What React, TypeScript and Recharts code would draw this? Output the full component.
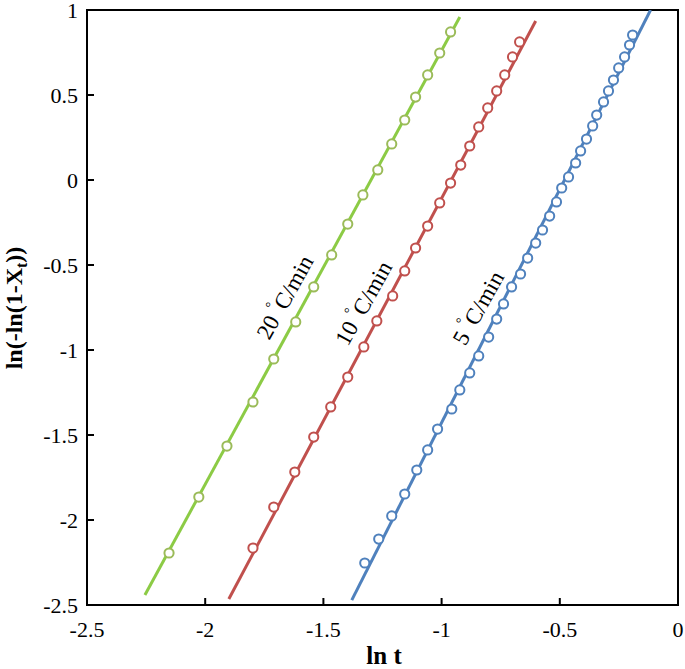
import React from 'react';
import { ComposedChart, Scatter, XAxis, YAxis, ReferenceArea } from 'recharts';

// ---- data ----
const xTicks = [-2.5, -2, -1.5, -1, -0.5, 0];
const yTicks = [-2.5, -2, -1.5, -1, -0.5, 0, 0.5, 1];

// 20 °C/min
const greenX = [-2.153, -2.027, -1.908, -1.798, -1.710, -1.617, -1.541, -1.465, -1.397, -1.333, -1.270, -1.211, -1.156, -1.110, -1.059, -1.008, -0.962];
const greenY = [-2.194, -1.865, -1.565, -1.306, -1.053, -0.835, -0.629, -0.441, -0.259, -0.088, 0.059, 0.212, 0.353, 0.488, 0.618, 0.747, 0.871];
const greenFitX = [-2.255, -0.923];
const greenFitY = [-2.441, 0.959];

// 10 °C/min
const redX = [-1.798, -1.710, -1.621, -1.541, -1.469, -1.397, -1.329, -1.274, -1.207, -1.156, -1.110, -1.059, -1.008, -0.962, -0.919, -0.881, -0.843, -0.805, -0.767, -0.733, -0.700, -0.670];
const redY = [-2.165, -1.924, -1.718, -1.512, -1.335, -1.159, -0.982, -0.829, -0.682, -0.535, -0.400, -0.271, -0.135, -0.018, 0.088, 0.200, 0.312, 0.424, 0.524, 0.618, 0.724, 0.812];
const redFitX = [-1.900, -0.602];
const redFitY = [-2.465, 0.935];

// 5 °C/min
const blueX = [-1.325, -1.266, -1.211, -1.156, -1.105, -1.059, -1.017, -0.957, -0.923, -0.881, -0.843, -0.801, -0.767, -0.738, -0.704, -0.666, -0.636, -0.602, -0.573, -0.543, -0.514, -0.492, -0.463, -0.433, -0.412, -0.387, -0.361, -0.344, -0.315, -0.294, -0.273, -0.251, -0.226, -0.205, -0.192];
const blueY = [-2.253, -2.112, -1.976, -1.847, -1.706, -1.588, -1.465, -1.347, -1.235, -1.135, -1.035, -0.924, -0.818, -0.729, -0.629, -0.553, -0.459, -0.371, -0.294, -0.212, -0.129, -0.047, 0.018, 0.100, 0.171, 0.241, 0.318, 0.382, 0.459, 0.524, 0.588, 0.659, 0.724, 0.794, 0.853];
const blueFitX = [-1.380, -0.116];
const blueFitY = [-2.471, 1.0];

// curve labels
const labelRates = ['20', '10', '5'];
const labelX = [-1.663, -1.330, -0.845];
const labelY = [-0.690, -0.724, -0.753];

const toPts = (xs: number[], ys: number[]) => xs.map((x, i) => ({ x, y: ys[i] }));

const FONT = "'Liberation Serif', 'Times New Roman', serif";
const GREEN_LINE = '#8CCB45';
const GREEN_DOT = '#9BBB59';
const RED = '#C0504D';
const BLUE = '#4F81BD';

const XTick = (props: any) => {
  const { x, y, payload } = props;
  return (
    <g>
      <line x1={x} y1={y} x2={x} y2={y - 7} stroke="#000" strokeWidth={2} />
      <text x={x} y={y + 32} textAnchor="middle" fontFamily={FONT} fontSize={22} fill="#000">
        {String(payload.value)}
      </text>
    </g>
  );
};

const YTick = (props: any) => {
  const { x, y, payload } = props;
  return (
    <g>
      <line x1={x} y1={y} x2={x + 7} y2={y} stroke="#000" strokeWidth={2} />
      <text x={x - 9} y={y + 8} textAnchor="end" fontFamily={FONT} fontSize={22} fill="#000">
        {String(payload.value)}
      </text>
    </g>
  );
};

const YTitle = () => (
  <text
    x={22}
    y={308}
    transform="rotate(-90 22 308)"
    textAnchor="middle"
    fontFamily={FONT}
    fontSize={24}
    fontWeight="bold"
    fill="#000"
  >
    ln(-ln(1-X<tspan fontSize={16} dy={5}>t</tspan><tspan dy={-5}>))</tspan>
  </text>
);

const XTitle = () => (
  <text x={384} y={664} textAnchor="middle" fontFamily={FONT} fontSize={25} fontWeight="bold" fill="#000">
    ln t
  </text>
);

const makeDot = (color: string) => (p: any) => (
  <circle cx={p.cx} cy={p.cy} r={4.6} fill="#fff" stroke={color} strokeWidth={2} />
);

const NoShape = () => <g />;

const makeLabel = (rate: string) => (p: any) => (
  <text
    x={p.cx}
    y={p.cy}
    transform={`rotate(-61 ${p.cx} ${p.cy})`}
    textAnchor="middle"
    dominantBaseline="central"
    fontFamily={FONT}
    fontSize={23}
    fill="#000"
  >
    {rate + ' '}
    <tspan fontSize={14} dy={-9}>°</tspan>
    <tspan dy={9}>C/min</tspan>
  </text>
);

export default function App() {
  const fits = [
    { xs: greenFitX, ys: greenFitY, c: GREEN_LINE },
    { xs: redFitX, ys: redFitY, c: RED },
    { xs: blueFitX, ys: blueFitY, c: BLUE },
  ];
  const pts = [
    { xs: greenX, ys: greenY, c: GREEN_DOT },
    { xs: redX, ys: redY, c: RED },
    { xs: blueX, ys: blueY, c: BLUE },
  ];
  return (
    <div style={{ position: 'absolute', left: 0, top: 0, width: 685, height: 669, background: '#fff' }}>
      <ComposedChart width={685} height={669} margin={{ top: 10, right: 7, bottom: 24, left: 0 }}>
        <XAxis
          type="number"
          dataKey="x"
          domain={[-2.5, 0]}
          ticks={xTicks}
          tickSize={0}
          tickMargin={0}
          tickLine={false}
          axisLine={false}
          tick={<XTick />}
          height={40}
          allowDataOverflow
          label={<XTitle />}
        />
        <YAxis
          type="number"
          dataKey="y"
          domain={[-2.5, 1]}
          ticks={yTicks}
          tickSize={0}
          tickMargin={0}
          tickLine={false}
          axisLine={false}
          tick={<YTick />}
          width={87}
          allowDataOverflow
          label={<YTitle />}
        />
        <ReferenceArea
          x1={-2.5}
          x2={0}
          y1={-2.5}
          y2={1}
          fill="none"
          fillOpacity={0}
          stroke="#000"
          strokeWidth={2}
          ifOverflow="visible"
        />
        {fits.map((f, i) => (
          <Scatter
            key={'fit' + i}
            data={toPts(f.xs, f.ys)}
            line={{ stroke: f.c, strokeWidth: 3 }}
            shape={<NoShape />}
            fill={f.c}
            isAnimationActive={false}
          />
        ))}
        {pts.map((s, i) => (
          <Scatter
            key={'pts' + i}
            data={toPts(s.xs, s.ys)}
            shape={makeDot(s.c)}
            fill={s.c}
            isAnimationActive={false}
          />
        ))}
        {labelRates.map((r, i) => (
          <Scatter
            key={'lab' + i}
            data={[{ x: labelX[i], y: labelY[i] }]}
            shape={makeLabel(r)}
            isAnimationActive={false}
          />
        ))}
      </ComposedChart>
    </div>
  );
}
